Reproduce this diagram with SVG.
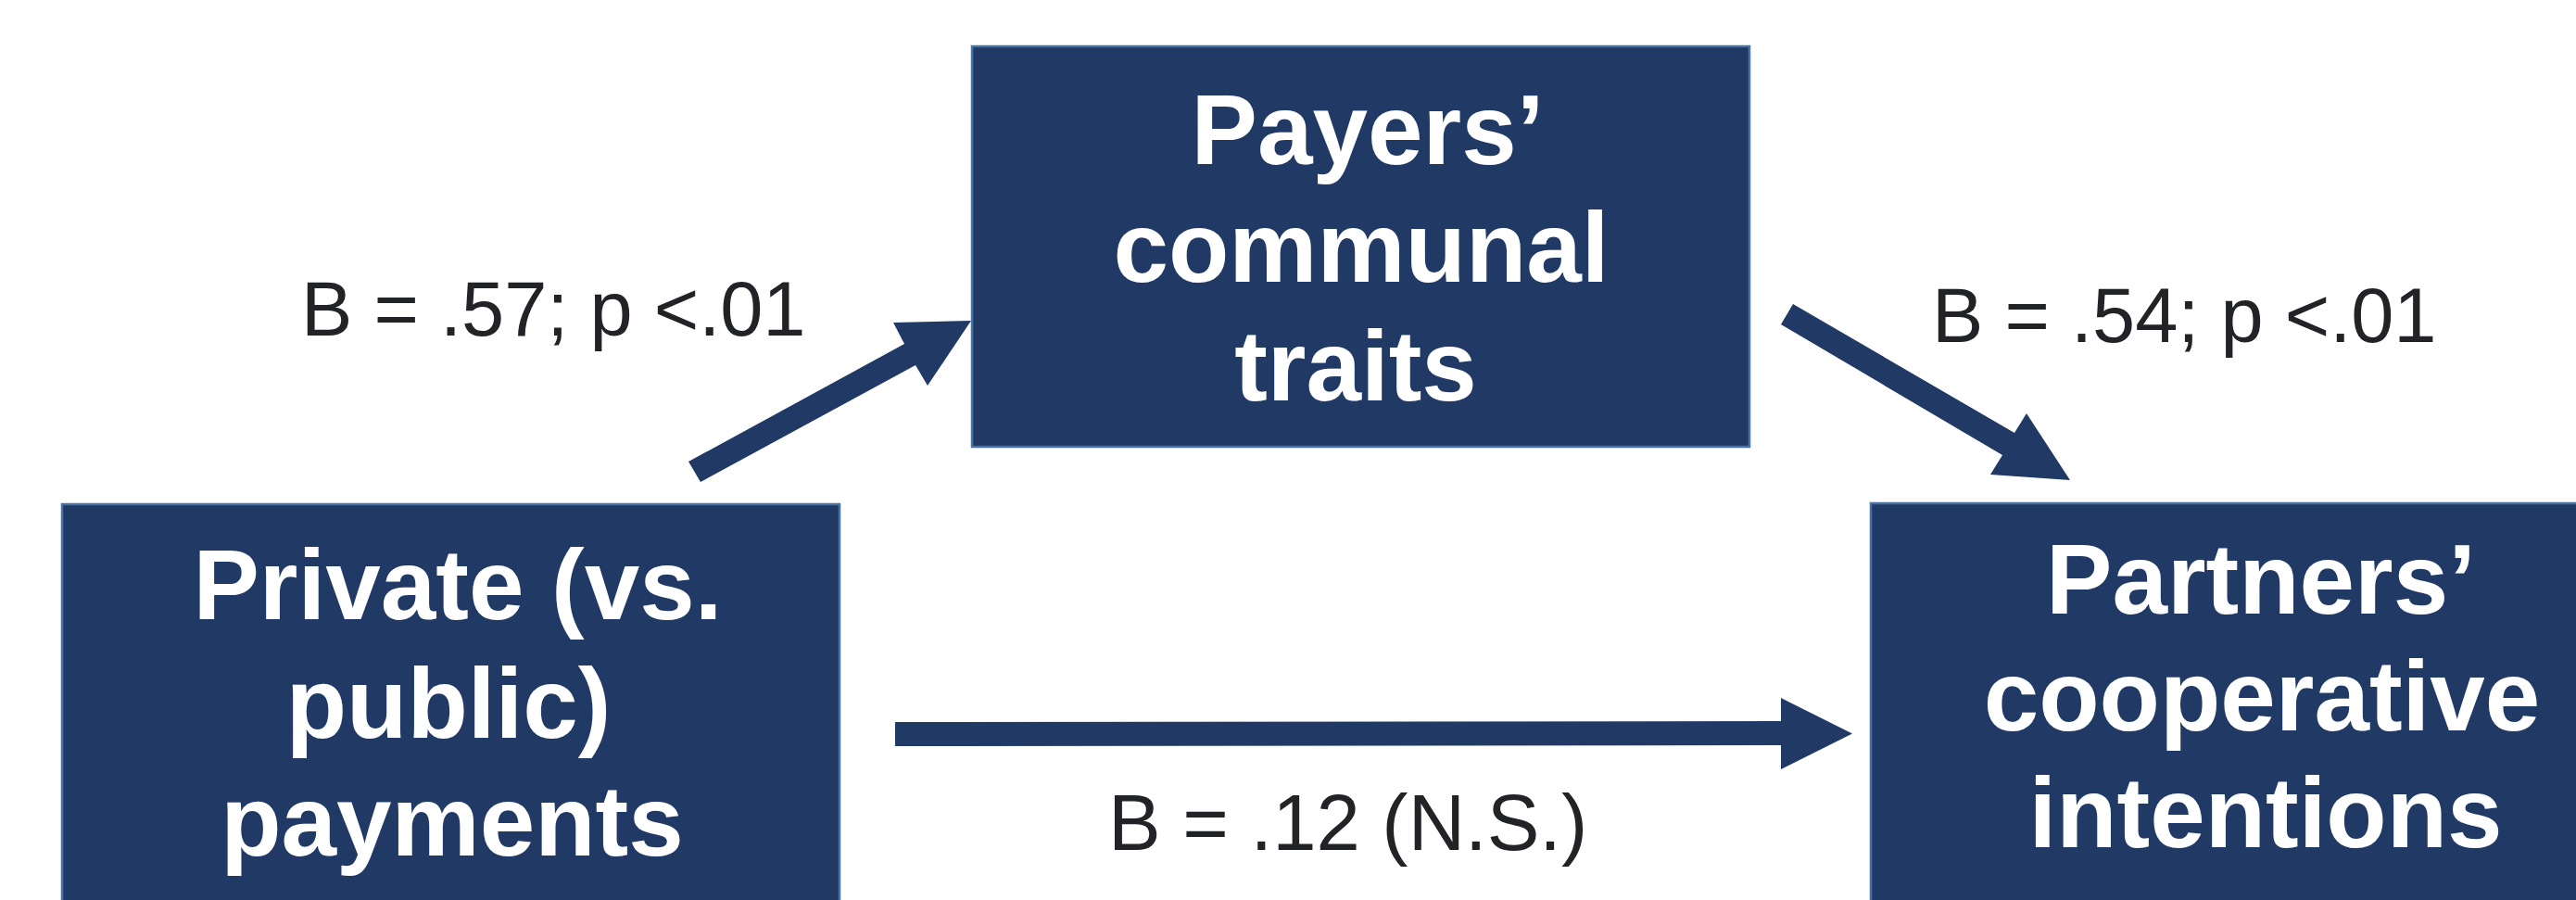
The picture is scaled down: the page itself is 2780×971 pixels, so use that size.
<svg xmlns="http://www.w3.org/2000/svg" width="2780" height="971" viewBox="0 0 2780 971">
<style>
.box{fill:#213A65;stroke:#4A72A0;stroke-width:2.5}
.nt{font-family:"Liberation Sans",Arial,sans-serif;font-weight:bold;font-size:107px;fill:#FFFFFF;text-anchor:middle}
.lb{font-family:"Liberation Sans",Arial,sans-serif;font-size:83px;fill:#222326}
.arr{fill:#213A65}
</style>
<rect width="2780" height="971" fill="#FFFFFF"/>
<g id="connectors">
<polygon class="arr" points="743,498 976,371 964,348 1048,346 1001,416 988,394 756,520"/>
<polygon class="arr" points="1935,328 2174,467 2187,446 2234,518 2148,512 2161,491 1922,350"/>
<polygon class="arr" points="966,779 1922,778 1922,753 1999,791.5 1922,830 1922,804 966,805"/>
</g>
<g id="node-private">
<rect class="box" x="67" y="544" width="839" height="432"/>
<text class="nt" x="494" y="668">Private (vs.</text>
<text class="nt" x="484" y="796">public)</text>
<text class="nt" x="488" y="923">payments</text>
</g>
<g id="node-payers">
<rect class="box" x="1049" y="50" width="839" height="432"/>
<text class="nt" x="1476" y="177">Payers’</text>
<text class="nt" x="1469" y="304">communal</text>
<text class="nt" x="1463" y="432">traits</text>
</g>
<g id="node-partners">
<rect class="box" x="2019" y="543" width="839" height="432"/>
<text class="nt" x="2440" y="662">Partners’</text>
<text class="nt" x="2441" y="788">cooperative</text>
<text class="nt" x="2445" y="914">intentions</text>
</g>
<g id="labels">
<text class="lb" x="325" y="362">B = .57; p &lt;.01</text>
<text class="lb" x="2085" y="369">B = .54; p &lt;.01</text>
<text class="lb" x="1196" y="917" style="font-size:85px">B = .12 (N.S.)</text>
</g>
</svg>
